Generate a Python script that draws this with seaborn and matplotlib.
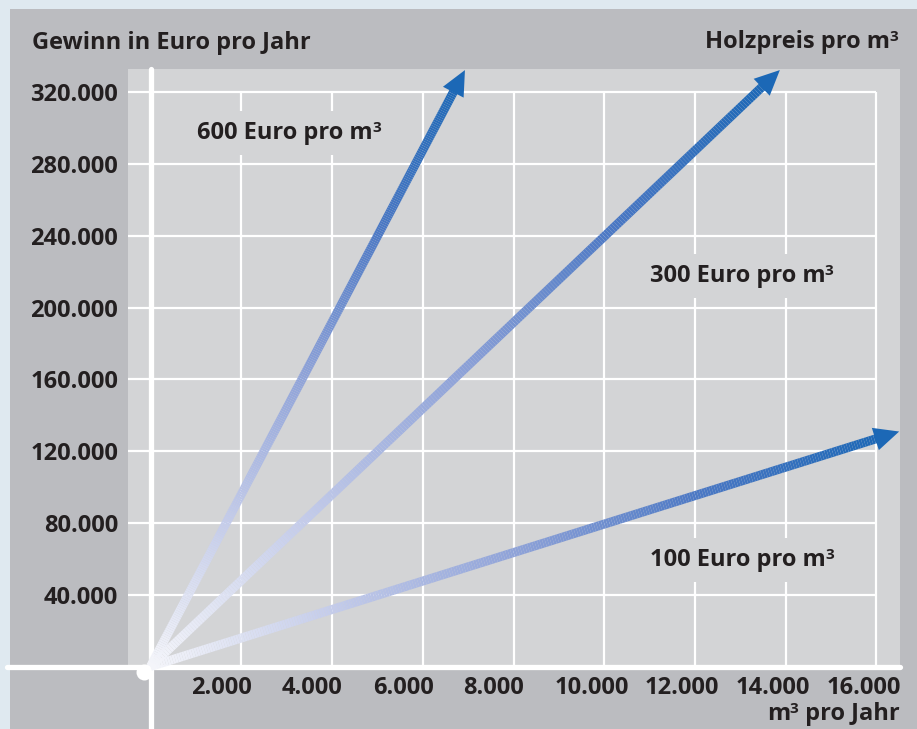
import numpy as np
import matplotlib
matplotlib.use("Agg")
import matplotlib.pyplot as plt
import seaborn as sns
from matplotlib.collections import LineCollection
from matplotlib.colors import LinearSegmentedColormap
from matplotlib.patches import Rectangle
from matplotlib.transforms import ScaledTranslation

# data
price_labels = ["100 Euro pro m", "300 Euro pro m", "600 Euro pro m"]   # each followed by a superscript 3
volume_end = [16500, 13870, 6930]        # m3 pro Jahr at the arrow tip
profit_end = [131000, 332500, 332500]    # Euro pro Jahr at the arrow tip

x_ticks = [2000, 4000, 6000, 8000, 10000, 12000, 14000, 16000]
x_tick_labels = ["2.000", "4.000", "6.000", "8.000", "10.000", "12.000", "14.000", "16.000"]
y_ticks = [40000, 80000, 120000, 160000, 200000, 240000, 280000, 320000]
y_tick_labels = ["40.000", "80.000", "120.000", "160.000", "200.000", "240.000", "280.000", "320.000"]

panel_gray = "#bbbcc0"
plot_gray = "#d3d4d6"
text_col = "#231f20"
arrow_blue = "#1c68b6"
fs = 17
fs_sup = 11

sns.set_theme(style="white")
plt.rcParams["font.family"] = ["Open Sans", "DejaVu Sans"]
plt.rcParams["font.weight"] = "bold"

fig = plt.figure(figsize=(9.17, 7.29), dpi=100)
fig.patch.set_facecolor("#dfe9f0")
fig.add_artist(Rectangle((10 / 917, 0), 1, 1 - 9 / 729, transform=fig.transFigure,
                         facecolor=panel_gray, edgecolor="none", zorder=0))

ax = fig.add_axes([128 / 917, 62.5 / 729, 772 / 917, 597.5 / 729])
ax.set_facecolor(plot_gray)
for s in ax.spines.values():
    s.set_visible(False)
ax.set_xlim(-496, 16518)
ax.set_ylim(0, 333100)


def sup3(base, ycoord, y, zorder=3):
    # small raised "3" right after a text whose baseline sits at y
    ax.annotate("3", xy=(1, y), xycoords=(base, ycoord), xytext=(-0.5, 4.8),
                textcoords="offset points", ha="left", va="baseline",
                fontsize=fs_sup, fontweight="bold", color=text_col,
                zorder=zorder, annotation_clip=False)


# grid
ax.vlines(x_ticks, 0, 320000, color="white", lw=1.6, zorder=1)
ax.hlines(y_ticks, -496, 16000, color="white", lw=1.6, zorder=1)

# axis lines
ax.axhline(0, xmin=(7 - 128) / 772, xmax=1, color="white", lw=3.8, clip_on=False, zorder=2)
ax.axvline(0, ymin=-0.2, ymax=1, color="white", lw=3.8, clip_on=False, zorder=2)

# ticks
ax.set_yticks(y_ticks, y_tick_labels)
ax.set_xticks([])
ax.tick_params(axis="y", length=0, pad=7.2, labelsize=fs, labelcolor=text_col)
for lbl in ax.get_yticklabels():
    lbl.set_fontweight("bold")

off = ScaledTranslation(-50 / 100, -21 / 100, fig.dpi_scale_trans)
for xv, lab in zip(x_ticks, x_tick_labels):
    ax.text(xv, 0, lab, transform=ax.get_xaxis_transform() + off, ha="left", va="center",
            fontsize=fs, fontweight="bold", color=text_col, clip_on=False)

# gradient arrows
cmap = LinearSegmentedColormap.from_list("arr", ["#f4f5fa", "#c3cbea", "#8ea2d8", "#4b78c4", arrow_blue])
t = np.linspace(0, 0.98, 300)
for xe, ye in zip(volume_end, profit_end):
    xs, ys = t * xe, t * ye
    segs = np.stack([np.column_stack([xs[:-1], ys[:-1]]), np.column_stack([xs[1:], ys[1:]])], axis=1)
    lc = LineCollection(segs, colors=cmap(t[:-1] / t[-1]), linewidths=6.5, capstyle="butt",
                        zorder=4, clip_on=False)
    ax.add_collection(lc)
    ax.annotate("", xy=(xe, ye), xytext=(xe * 0.9, ye * 0.9),
                arrowprops=dict(arrowstyle="-|>,head_length=0.9,head_width=0.42",
                                mutation_scale=20, lw=0, color=arrow_blue,
                                shrinkA=0, shrinkB=0),
                zorder=5, annotation_clip=False)

ax.plot([0], [0], "o", ms=11.5, color="white", mec="none", zorder=3, clip_on=False,
        transform=ax.transData + ScaledTranslation(-7 / 100, -5 / 100, fig.dpi_scale_trans))

# series labels
label_pos = [(11008, 56000), (11008, 214400), (1025, 294100)]
for lab, (px, py) in zip(price_labels, label_pos):
    txt = ax.text(px, py, lab, ha="left", va="baseline", fontsize=fs, fontweight="bold",
                  color=text_col, zorder=3,
                  bbox=dict(boxstyle="square,pad=0.42", facecolor=plot_gray, edgecolor="none"))
    sup3(txt, "data", py)

# axis titles
fig.text(32 / 917, 1 - 49 / 729, "Gewinn in Euro pro Jahr", ha="left", va="baseline",
         fontsize=fs, fontweight="bold", color=text_col)
y_h = 1 - 48 / 729
t_h = fig.text(890 / 917, y_h, "Holzpreis pro m", ha="right", va="baseline",
               fontsize=fs, fontweight="bold", color=text_col)
sup3(t_h, "figure fraction", y_h)
y_m = 1 - 720 / 729
t_m = fig.text(900 / 917, y_m, " pro Jahr", ha="right", va="baseline",
               fontsize=fs, fontweight="bold", color=text_col)
t_m0 = ax.annotate("m", xy=(0, y_m), xycoords=(t_m, "figure fraction"), xytext=(-6.5, 0),
                   textcoords="offset points", ha="right", va="baseline",
                   fontsize=fs, fontweight="bold", color=text_col, annotation_clip=False)
sup3(t_m0, "figure fraction", y_m)

fig.savefig("out.png", dpi=100, facecolor=fig.get_facecolor())
